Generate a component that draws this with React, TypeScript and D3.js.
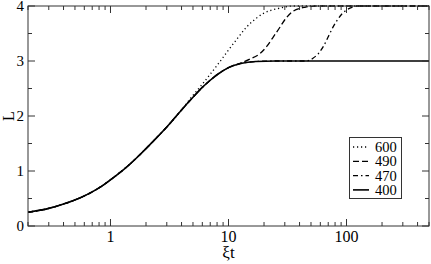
import React from 'react';
import * as d3 from 'd3';

// values (x = ξt, y = L)
const xs400 = [0.2, 0.3, 0.4, 0.55, 0.7, 0.85, 1, 1.4, 1.8, 2.5, 3, 4, 5, 6, 7, 8, 10, 13, 17, 25, 60, 500];
const ys400 = [0.25, 0.32, 0.4, 0.51, 0.62, 0.73, 0.84, 1.09, 1.31, 1.62, 1.8, 2.11, 2.34, 2.52, 2.65, 2.75, 2.88, 2.96, 2.99, 3.0, 3.0, 3.0];

const xs470 = [0.2, 0.3, 0.4, 0.55, 0.7, 0.85, 1, 1.4, 1.8, 2.5, 3, 4, 5, 6, 7, 8, 10, 13, 17, 25, 45, 52, 58, 63.5, 70, 77, 84, 91, 107, 130, 500];
const ys470 = [0.25, 0.32, 0.4, 0.51, 0.62, 0.73, 0.84, 1.09, 1.31, 1.62, 1.8, 2.11, 2.34, 2.52, 2.65, 2.75, 2.88, 2.96, 2.99, 3.0, 3.0, 3.05, 3.14, 3.26, 3.44, 3.62, 3.75, 3.85, 3.96, 4.0, 4.0];

const xs490 = [0.2, 0.3, 0.4, 0.55, 0.7, 0.85, 1, 1.4, 1.8, 2.5, 3, 4, 5, 6, 7, 8, 10, 13, 15, 18.6, 21, 24, 27, 30, 35, 45, 55, 500];
const ys490 = [0.25, 0.32, 0.4, 0.51, 0.62, 0.73, 0.84, 1.09, 1.31, 1.62, 1.8, 2.11, 2.34, 2.52, 2.65, 2.75, 2.88, 2.97, 3.03, 3.14, 3.26, 3.44, 3.6, 3.75, 3.9, 3.98, 4.0, 4.0];

const xs600 = [0.2, 0.3, 0.4, 0.55, 0.7, 0.85, 1, 1.4, 1.8, 2.5, 3, 4, 4.8, 5.8, 7, 8, 10, 12, 14, 17, 20, 27, 35, 500];
const ys600 = [0.25, 0.32, 0.4, 0.51, 0.62, 0.73, 0.84, 1.09, 1.31, 1.62, 1.8, 2.11, 2.33, 2.54, 2.76, 2.92, 3.2, 3.42, 3.6, 3.77, 3.87, 3.96, 4.0, 4.0];

const seriesNames = ['600', '490', '470', '400'];
const dashes = ['1.2 2.8', '6 3', '5 3 1.5 3', ''];

const xTickLabels = [1, 10, 100];
const yTickLabels = [0, 1, 2, 3, 4];

const W = 431;
const H = 264;
const m = { left: 28, right: 2, top: 6, bottom: 38 };
const serif = { fontFamily: "'Liberation Serif', 'Times New Roman', 'DejaVu Serif', serif" };

const App: React.FC = () => {
  const x = d3.scaleLog().domain([0.2, 500]).range([m.left, W - m.right]);
  const y = d3.scaleLinear().domain([0, 4]).range([H - m.bottom, m.top]);

  const line = d3
    .line<[number, number]>()
    .x((d) => x(d[0]))
    .y((d) => y(d[1]))
    .curve(d3.curveMonotoneX);

  const data: [number, number][][] = [
    xs600.map((v, i) => [v, ys600[i]]),
    xs490.map((v, i) => [v, ys490[i]]),
    xs470.map((v, i) => [v, ys470[i]]),
    xs400.map((v, i) => [v, ys400[i]]),
  ];

  // log minor ticks 2..9 per decade
  const minorX: number[] = [];
  for (let dec = 0.1; dec <= 100; dec *= 10) {
    for (let k = 2; k <= 9; k++) {
      const v = +(dec * k).toPrecision(3);
      if (v >= 0.2 && v <= 500 && ![1, 10, 100].includes(v)) minorX.push(v);
    }
  }
  const minorY = [0.5, 1.5, 2.5, 3.5];

  const x0 = m.left, x1 = W - m.right, y0 = H - m.bottom, y1 = m.top;

  return (
    <svg width={W} height={H} style={{ position: 'absolute', left: 0, top: 0, background: '#fff' }}>
      <defs>
        <clipPath id="plot">
          <rect x={x0} y={y1 - 2} width={x1 - x0} height={y0 - y1 + 2} />
        </clipPath>
      </defs>

      {/* curves */}
      <g clipPath="url(#plot)">
        {data.map((d, i) => (
          <path
            key={seriesNames[i]}
            d={line(d) || ''}
            fill="none"
            stroke="#000"
            strokeWidth={i === 3 ? 1.6 : 1.3}
            strokeDasharray={dashes[i] || undefined}
          />
        ))}
      </g>

      {/* frame */}
      <rect x={x0} y={y1} width={x1 - x0} height={y0 - y1} fill="none" stroke="#333" strokeWidth={1} />

      {/* x ticks, bottom and top */}
      {xTickLabels.map((t) => (
        <g key={'xm' + t}>
          <line x1={x(t)} x2={x(t)} y1={y0} y2={y0 - 7} stroke="#333" />
          <line x1={x(t)} x2={x(t)} y1={y1} y2={y1 + 7} stroke="#333" />
          <text x={x(t)} y={y0 + 16} textAnchor="middle" style={serif} fontSize={16} fill="#000">
            {t}
          </text>
        </g>
      ))}
      {minorX.map((t) => (
        <g key={'xn' + t}>
          <line x1={x(t)} x2={x(t)} y1={y0} y2={y0 - 4} stroke="#333" />
          <line x1={x(t)} x2={x(t)} y1={y1} y2={y1 + 4} stroke="#333" />
        </g>
      ))}

      {/* y ticks, left and right */}
      {yTickLabels.map((t) => (
        <g key={'ym' + t}>
          <line x1={x0} x2={x0 + 7} y1={y(t)} y2={y(t)} stroke="#333" />
          <line x1={x1} x2={x1 - 7} y1={y(t)} y2={y(t)} stroke="#333" />
          <text x={x0 - 4} y={y(t) + 5} textAnchor="end" style={serif} fontSize={15} fill="#000">
            {t}
          </text>
        </g>
      ))}
      {minorY.map((t) => (
        <g key={'yn' + t}>
          <line x1={x0} x2={x0 + 4} y1={y(t)} y2={y(t)} stroke="#333" />
          <line x1={x1} x2={x1 - 4} y1={y(t)} y2={y(t)} stroke="#333" />
        </g>
      ))}

      {/* axis titles */}
      <text x={(x0 + x1) / 2} y={258} textAnchor="middle" style={serif} fontSize={17} fill="#000">
        ξt
      </text>
      <text
        x={14}
        y={(y0 + y1) / 2}
        textAnchor="middle"
        style={serif}
        fontSize={16}
        fill="#000"
        transform={`rotate(-90, 14, ${(y0 + y1) / 2})`}
      >
        L
      </text>

      {/* legend */}
      <rect x={349.5} y={137.5} width={52} height={61} fill="#fff" stroke="#333" strokeWidth={1} />
      {seriesNames.map((n, i) => {
        const ly = 147 + i * 14.3;
        return (
          <g key={'lg' + n}>
            <line
              x1={353}
              x2={369}
              y1={ly}
              y2={ly}
              stroke="#000"
              strokeWidth={i === 3 ? 1.6 : 1.3}
              strokeDasharray={dashes[i] || undefined}
            />
            <text x={375} y={ly + 5} style={serif} fontSize={14.5} fill="#000">
              {n}
            </text>
          </g>
        );
      })}
    </svg>
  );
};

export default App;
